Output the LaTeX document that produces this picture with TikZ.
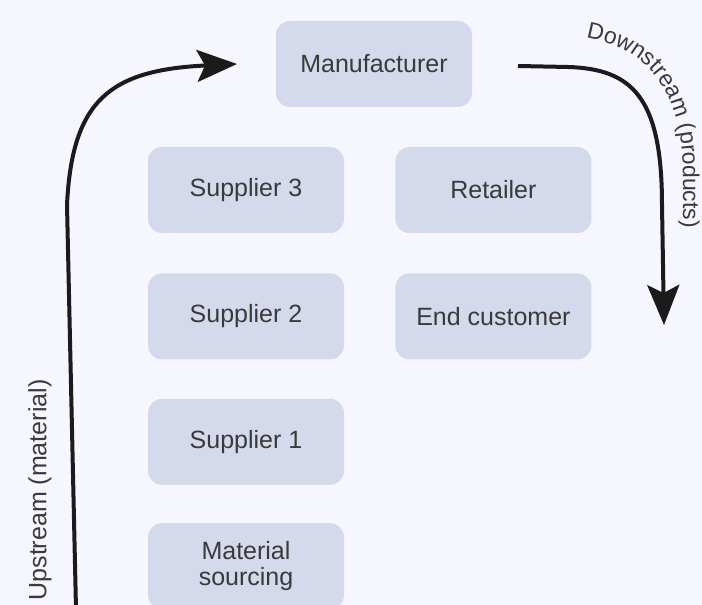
\documentclass[tikz,border=0pt]{standalone}
\usepackage{fontspec}
\setmainfont{Liberation Sans}
\usetikzlibrary{arrows.meta}
\usetikzlibrary{positioning}
\usetikzlibrary{decorations.text}
\definecolor{bgcol}{RGB}{245,246,254}
\definecolor{boxcol}{RGB}{213,217,236}
\definecolor{txtcol}{RGB}{58,58,58}
\definecolor{arrcol}{RGB}{28,26,26}

\begin{document}
\begin{tikzpicture}
		[x=1pt, y=1pt,
		font=\fontsize{25}{26}\selectfont,
		flow/.style={draw=arrcol, line width=4pt, -{Stealth[length=40pt,width=32pt,inset=8pt]}}
		]
		
		% Node style: the stages of the chain
		\tikzstyle{stage}=[rectangle,rounded corners=14pt,fill=boxcol,text=txtcol,minimum width=196pt,minimum height=86pt,inner sep=0pt,align=center];
		
		% Canvas
		\fill[bgcol] (0,0) rectangle (702,605);
		\useasboundingbox (0,0) rectangle (702,605);
		
		% The stages
		\node(man)[stage] at (374,541) {Manufacturer};
		\node(sup3)[stage] at (246,415) {Supplier 3};
		\node(sup2)[stage, below=40pt of sup3] {Supplier 2};
		\node(sup1)[stage, below=39pt of sup2] {Supplier 1};
		\node(mat)[stage, below=38pt of sup1] {Material\\sourcing};
		\node(ret)[stage, right=51pt of sup3] {Retailer};
		\node(cust)[stage, below=40pt of ret] {End customer};
		
		% Upstream (material)
		\coordinate(up0) at (76,-4);
		\coordinate(up1) at (67,400);
		\coordinate(up2) at (237,541);
		\draw[flow] (up0) -- (up1) .. controls (72,505) and (110,535) .. (up2);
		\node(uplabel)[rotate=90, text=txtcol] at (40,115) {Upstream (material)};
		
		% Downstream (products)
		\coordinate(down0) at (518,539);
		\coordinate(down1) at (568,538);
		\coordinate(down2) at (662,400);
		\coordinate(down3) at (664,280);
		\draw[flow] (down0) -- (down1) .. controls (632,536) and (662,508) .. (down2) -- (down3);
		\path[decorate, decoration={text along path, text align=left,
			text={|\fontsize{23}{26}\selectfont\color{txtcol}|Downstream (products)}}]
			(586,567) .. controls (644,557) and (683,520) .. (683,430) -- (683,250);
		\end{tikzpicture}
\end{document}
